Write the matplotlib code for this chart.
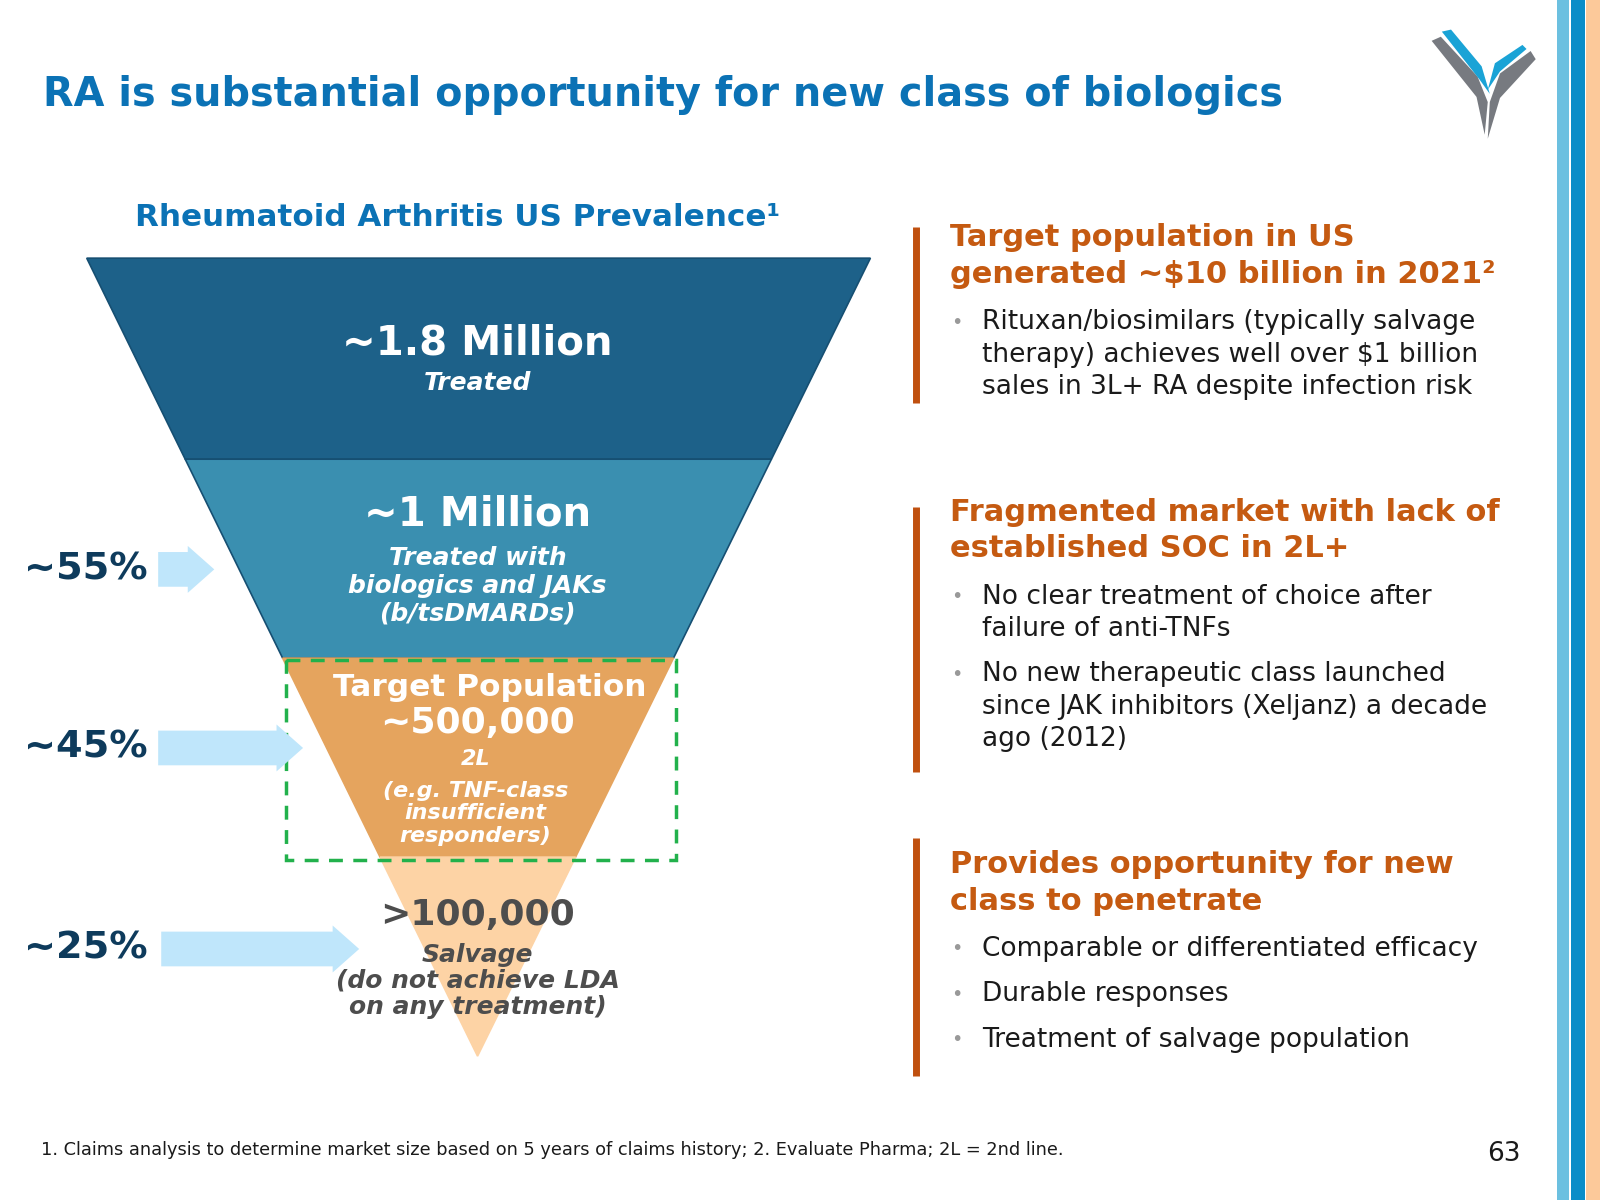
import matplotlib
matplotlib.use("Agg")
import matplotlib.pyplot as plt
from matplotlib.patches import Polygon, Rectangle, FancyArrow

W, H = 1568, 1176
fig = plt.figure(figsize=(16, 12), dpi=100)
ax = fig.add_axes([0, 0, 1, 1])
ax.set_xlim(0, W); ax.set_ylim(H, 0); ax.axis("off")
plt.rcParams['font.family'] = ['DejaVu Sans']

title = "RA is substantial opportunity for new class of biologics"
funnel_title = "Rheumatoid Arthritis US Prevalence¹"
levels = [(253, 450), (450, 645), (645, 840), (840, 1035)]
level_colors = ["#1d6189", "#3a8fb0", "#e5a45e", "#fdd3a5"]
pcts = ["~55%", "~45%", "~25%"]

TOP_L, TOP_R, APEX_X, APEX_Y = 85, 853, 468, 1035
def xl(y): return TOP_L + (APEX_X - TOP_L) * (y - 253) / (APEX_Y - 253)
def xr(y): return TOP_R + (APEX_X - TOP_R) * (y - 253) / (APEX_Y - 253)

for i, ((y0, y1), c) in enumerate(zip(levels, level_colors)):
    ax.add_patch(Polygon([(xl(y0), y0), (xr(y0), y0), (xr(y1), y1), (xl(y1), y1)],
                         closed=True, fc=c, ec="#164f72" if i < 2 else c, lw=1.2))

ax.add_patch(Rectangle((280, 647), 382, 196, fill=False, ec="#22b14c", lw=2.5, ls=(0, (4, 3))))

ax.text(42, 93, title, color="#0b72b5", fontsize=28.6, fontweight="bold", va="center")
ax.text(448, 213, funnel_title, color="#0b72b5", fontsize=22.3, fontweight="bold", ha="center", va="center")

W_ = "white"
ax.text(468, 337, "~1.8 Million", color=W_, fontsize=29, fontweight="bold", ha="center", va="center")
ax.text(468, 375, "Treated", color=W_, fontsize=18, fontweight="bold", style="italic", ha="center", va="center")
ax.text(468, 504, "~1 Million", color=W_, fontsize=29, fontweight="bold", ha="center", va="center")
ax.text(468, 574, "Treated with\nbiologics and JAKs\n(b/tsDMARDs)", color=W_, fontsize=18, fontweight="bold",
        style="italic", ha="center", va="center", linespacing=1.2)
ax.text(480, 674, "Target Population", color=W_, fontsize=22.5, fontweight="bold", ha="center", va="center")
ax.text(468, 709, "~500,000", color=W_, fontsize=26, fontweight="bold", ha="center", va="center")
ax.text(466, 744, "2L", color=W_, fontsize=16, fontweight="bold", style="italic", ha="center", va="center")
ax.text(466, 797, "(e.g. TNF-class\ninsufficient\nresponders)", color=W_, fontsize=16, fontweight="bold",
        style="italic", ha="center", va="center", linespacing=1.15)
G = "#4d4d4d"
ax.text(468, 897, ">100,000", color=G, fontsize=26, fontweight="bold", ha="center", va="center")
ax.text(468, 961, "Salvage\n(do not achieve LDA\non any treatment)", color=G, fontsize=18, fontweight="bold",
        style="italic", ha="center", va="center", linespacing=1.1)

arrows = [(155, 210, 558), (155, 297, 733), (158, 352, 930)]
for p, (x0, x1, y) in zip(pcts, arrows):
    ax.add_patch(FancyArrow(x0, y, x1 - x0, 0, width=34, head_width=46, head_length=26,
                            length_includes_head=True, fc="#bfe6fb", ec="none"))
    ax.text(24, y, p, color="#0e3b5c", fontsize=27.5, fontweight="bold", va="center")

OR = "#c55a11"; TX = "#1a1a1a"
sections = [
    (222, 395, 233, ["Target population in US", "generated ~$10 billion in 2021²"], 316,
     [["Rituxan/biosimilars (typically salvage", "therapy) achieves well over $1 billion", "sales in 3L+ RA despite infection risk"]]),
    (497, 757, 502, ["Fragmented market with lack of", "established SOC in 2L+"], 585,
     [["No clear treatment of choice after", "failure of anti-TNFs"],
      ["No new therapeutic class launched", "since JAK inhibitors (Xeljanz) a decade", "ago (2012)"]]),
    (821, 1054, 847, ["Provides opportunity for new", "class to penetrate"], 930,
     [["Comparable or differentiated efficacy"], ["Durable responses"], ["Treatment of salvage population"]]),
]
for y0, y1, hy, head, by, bullets in sections:
    ax.plot([898, 898], [y0, y1], color="#c0500f", lw=5, solid_capstyle="butt")
    for i, h in enumerate(head):
        ax.text(931, hy + i * 36, h, color=OR, fontsize=22, fontweight="bold", va="center")
    yy = by
    for b in bullets:
        ax.text(932, yy, "•", color="#999999", fontsize=14, va="center")
        for line in b:
            ax.text(962, yy, line, color=TX, fontsize=19, va="center")
            yy += 31.5
        yy += 13

ax.text(40, 1127, "1. Claims analysis to determine market size based on 5 years of claims history; 2. Evaluate Pharma; 2L = 2nd line.",
        color=TX, fontsize=12.8, va="center")
ax.text(1490, 1131, "63", color=TX, fontsize=19, ha="right", va="center")

for x0, x1, c in [(1526, 1538, "#6cc0e0"), (1540, 1553, "#0a8dc8"), (1554, 1568, "#fcc99a")]:
    ax.add_patch(Rectangle((x0, 0), x1 - x0, H, fc=c, ec="none"))

# logo
ax.add_patch(Polygon([(1403, 40), (1412, 36), (1448, 75), (1458, 100), (1455, 132), (1447, 95)], fc="#777a80", ec="none"))
ax.add_patch(Polygon([(1413, 31), (1422, 29), (1452, 65), (1460, 92), (1450, 78)], fc="#1aa3d6", ec="none"))
ax.add_patch(Polygon([(1505, 58), (1500, 50), (1470, 72), (1460, 100), (1458, 136), (1470, 96)], fc="#777a80", ec="none"))
ax.add_patch(Polygon([(1496, 48), (1492, 44), (1465, 62), (1458, 88), (1470, 70)], fc="#1aa3d6", ec="none"))

fig.savefig("out.png", dpi=100, facecolor="white")
